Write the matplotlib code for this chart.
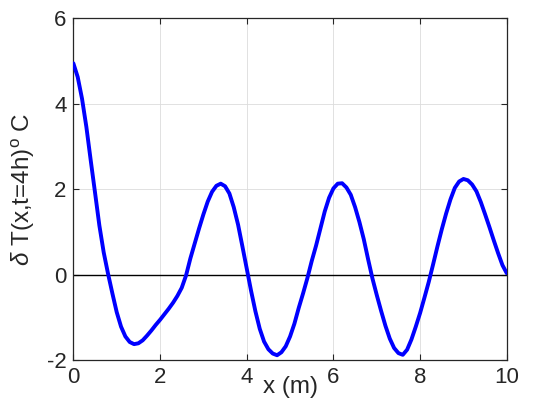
import matplotlib
matplotlib.use("Agg")
import matplotlib.pyplot as plt
import numpy as np

# temperature perturbation profile (x in m, dT in C)
x_m = np.round(np.arange(0, 10.01, 0.1), 1)
delta_T = [
    4.95, 4.63, 4.12, 3.46, 2.68, 1.92, 1.15, 0.52, 0.02, -0.44,
    -0.88, -1.22, -1.45, -1.58, -1.63, -1.61, -1.54, -1.43, -1.31, -1.18,
    -1.06, -0.93, -0.80, -0.66, -0.50, -0.31, -0.02, 0.38, 0.73, 1.08,
    1.41, 1.71, 1.94, 2.08, 2.13, 2.07, 1.90, 1.58, 1.17, 0.66,
    0.14, -0.38, -0.86, -1.27, -1.57, -1.75, -1.85, -1.89, -1.82, -1.68,
    -1.45, -1.15, -0.78, -0.44, -0.08, 0.32, 0.68, 1.08, 1.48, 1.80,
    2.02, 2.13, 2.14, 2.04, 1.87, 1.58, 1.23, 0.83, 0.36, -0.09,
    -0.48, -0.85, -1.20, -1.50, -1.72, -1.84, -1.88, -1.76, -1.52, -1.22,
    -0.90, -0.54, -0.17, 0.24, 0.66, 1.06, 1.43, 1.76, 2.03, 2.18,
    2.24, 2.21, 2.11, 1.95, 1.70, 1.41, 1.11, 0.80, 0.50, 0.22,
    0.03,
]
x_ticks = [0, 2, 4, 6, 8, 10]
y_ticks = [-2, 0, 2, 4, 6]

plt.rcParams["font.family"] = ["Liberation Sans", "DejaVu Sans"]
plt.rcParams["mathtext.fontset"] = "custom"
plt.rcParams["mathtext.rm"] = "Liberation Sans"
plt.rcParams["mathtext.it"] = "Liberation Sans:italic"
plt.rcParams["axes.unicode_minus"] = False

axis_col = "#262626"

fig = plt.figure(figsize=(5.6, 4.2), dpi=100)
ax = fig.add_axes([0.131, 0.143, 0.774, 0.813])

ax.plot(x_m, delta_T, color="#0000ff", linewidth=2.8, zorder=3,
        solid_joinstyle="round", solid_capstyle="round")
ax.axhline(0, color="black", linewidth=1.0, zorder=2)

ax.set_xlim(x_ticks[0], x_ticks[-1])
ax.set_ylim(y_ticks[0], y_ticks[-1])
ax.set_xticks(x_ticks)
ax.set_yticks(y_ticks)
ax.grid(True, color="#dcdcdc", linewidth=0.6)
ax.set_axisbelow(True)

ax.tick_params(direction="in", top=True, right=True, length=4,
               labelsize=16, colors=axis_col, pad=5)
for sp in ax.spines.values():
    sp.set_color(axis_col)
    sp.set_linewidth(0.9)

ax.set_xlabel("x (m)", fontsize=17.5, color=axis_col)
ax.set_ylabel(r"$\delta$ T(x,t=4h)$^{\rm o}$ C", fontsize=17.5,
              color=axis_col)
ax.xaxis.set_label_coords(0.5, -0.048)
ax.yaxis.set_label_coords(-0.085, 0.5)

fig.savefig("out.png", dpi=100)
